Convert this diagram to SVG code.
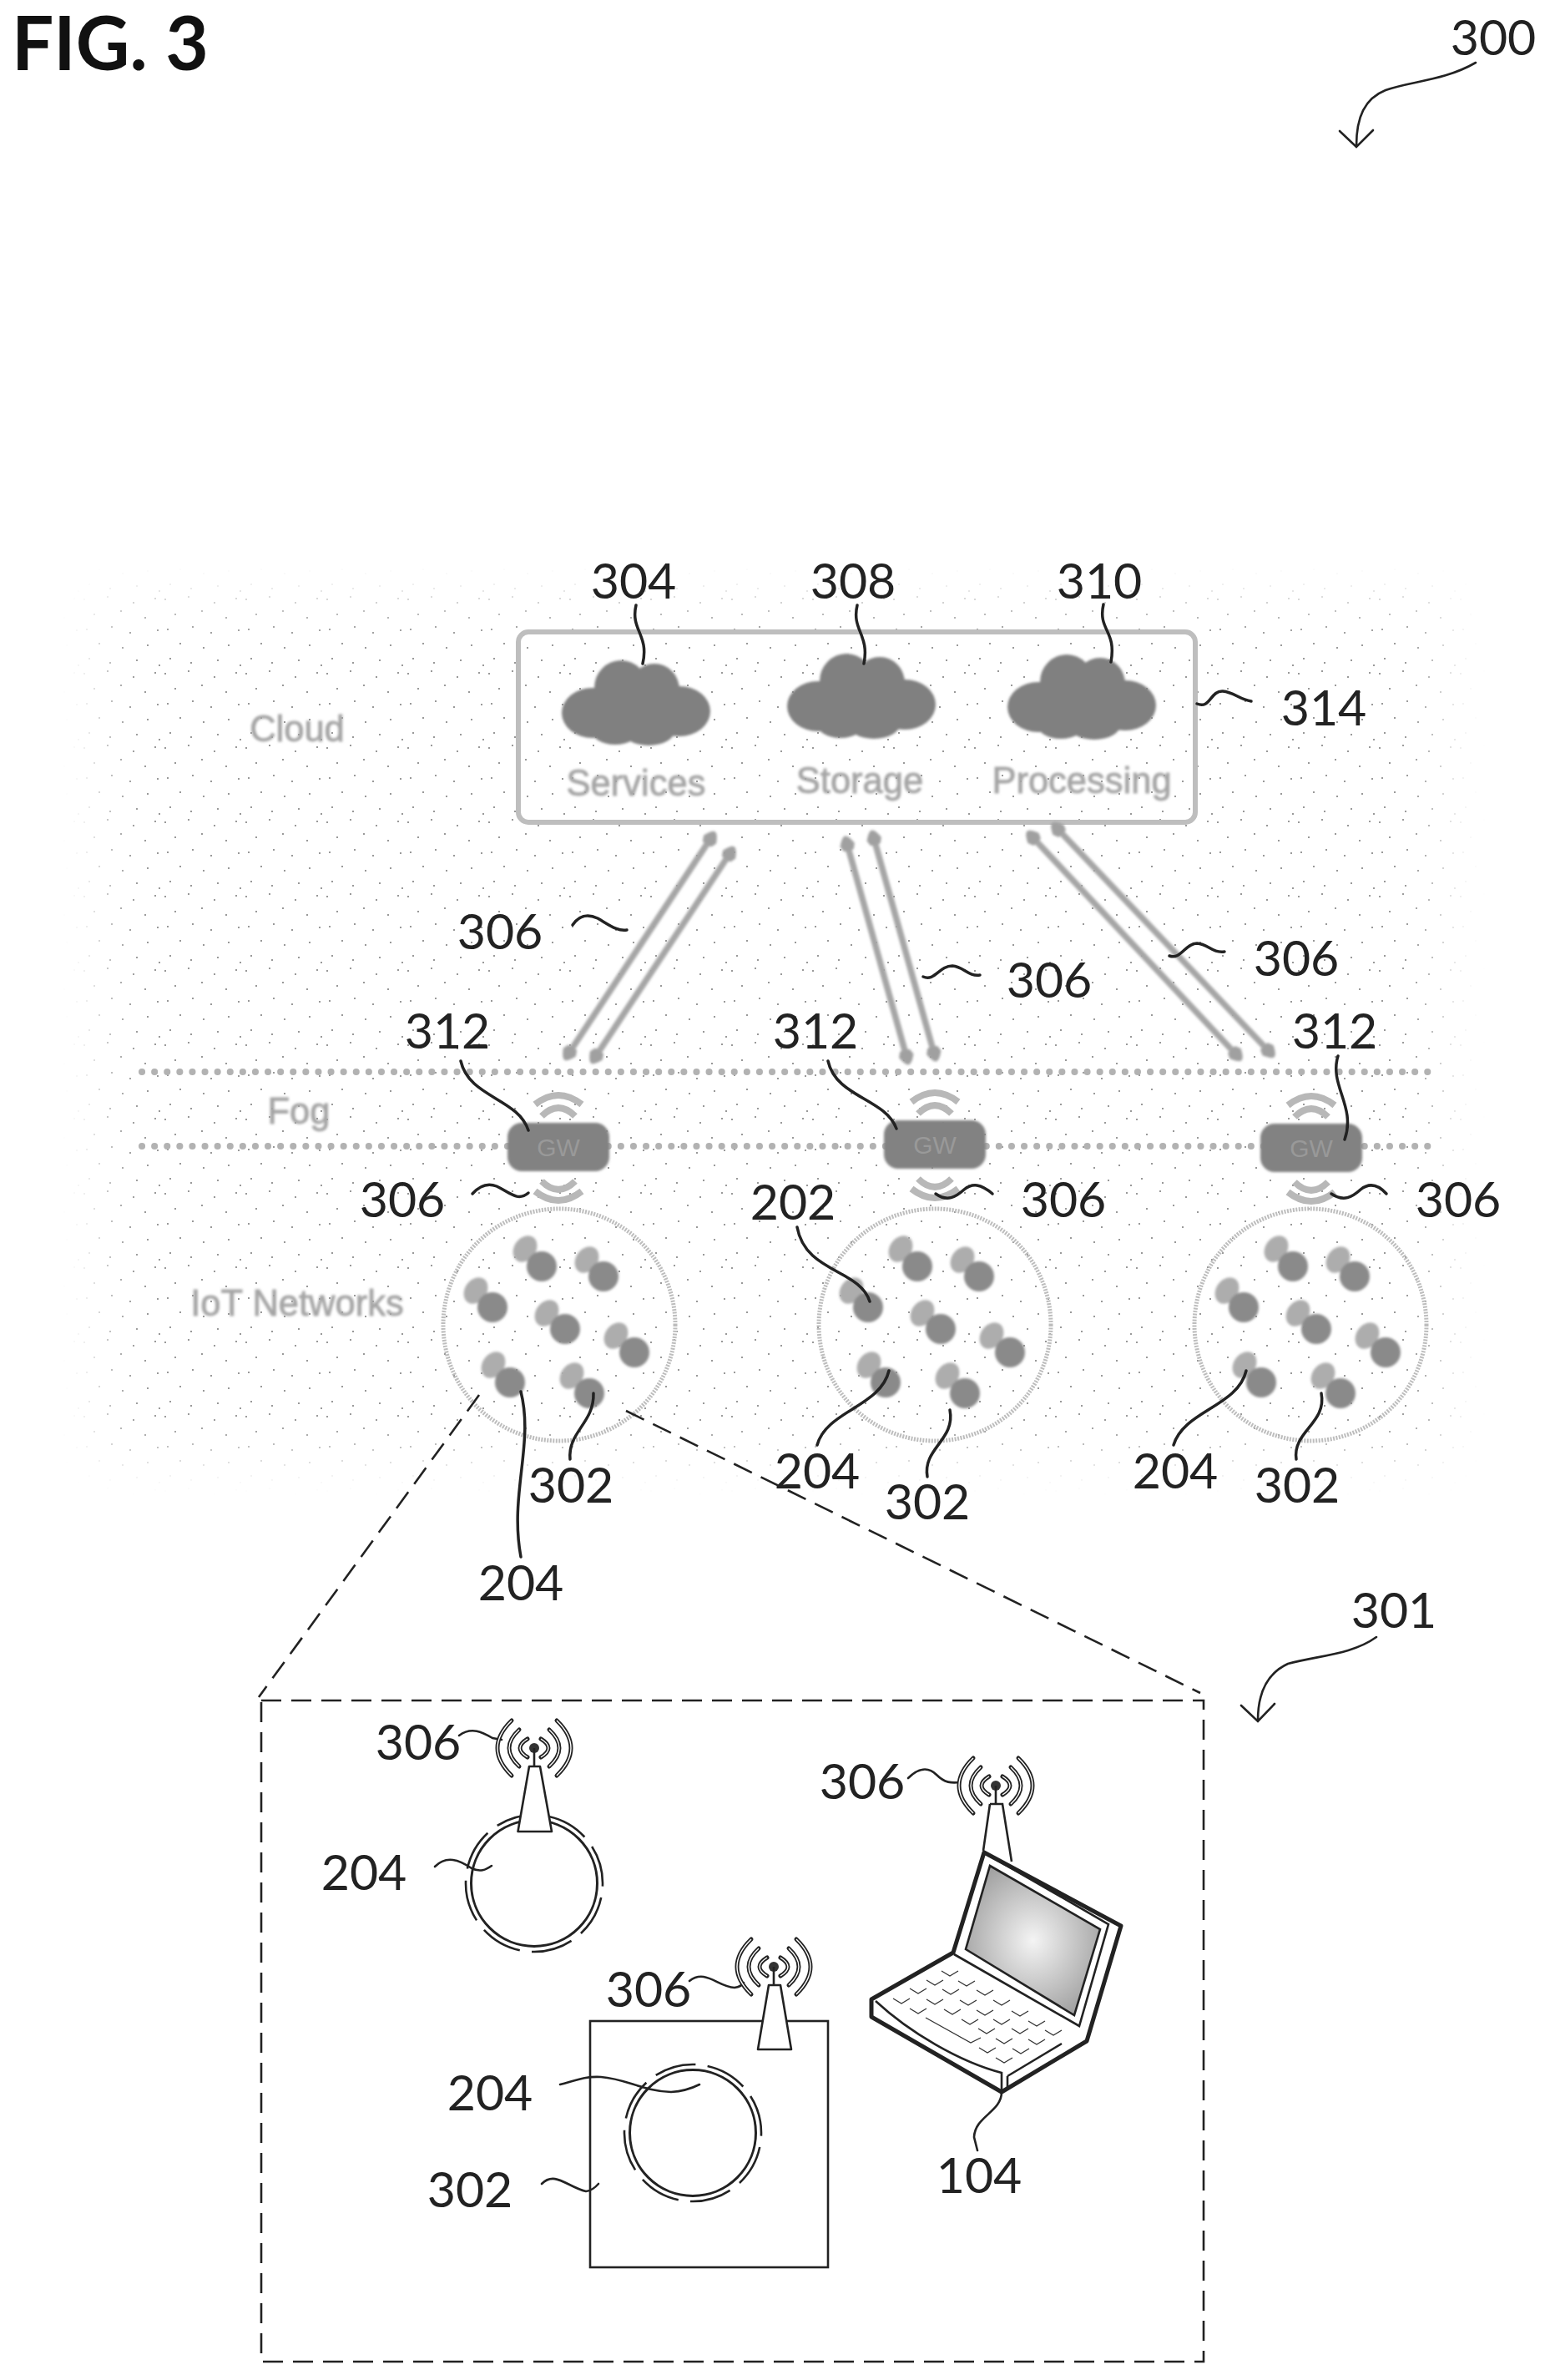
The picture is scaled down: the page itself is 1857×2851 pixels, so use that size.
<svg xmlns="http://www.w3.org/2000/svg" width="1857" height="2851" viewBox="0 0 1857 2851">
<style>
.n{font-family:Lato,"Noto Sans",sans-serif;font-size:59px;fill:#222;text-anchor:middle}
.g{font-family:"Liberation Sans",Arial,sans-serif;font-size:43.5px;fill:#a4a4a4;stroke:#a8a8a8;stroke-width:.9;text-anchor:middle}
.l{fill:none;stroke:#222;stroke-width:3.5;stroke-linecap:round}
.t{fill:none;stroke:#222;stroke-width:2.6;stroke-linecap:round}
.d{fill:none;stroke:#222;stroke-width:2.6;stroke-dasharray:24 12}
.a{fill:none;stroke:#a6a6a6;stroke-width:7.5;marker-start:url(#h);marker-end:url(#h)}
.w{fill:none;stroke:#b8b8b8;stroke-width:8}
.dot{fill:none;stroke:#b2b2b2;stroke-width:8;stroke-linecap:round;stroke-dasharray:.1 15}
.k{fill:none;stroke:#333;stroke-width:1.3}
.tower{fill:#fff;stroke:#222;stroke-width:2.6;stroke-linejoin:round}
</style>
<defs>
<pattern id="sp" width="97" height="89" patternUnits="userSpaceOnUse">
<g fill="#999"><rect x="3" y="5" width="2" height="2"/><rect x="31" y="2" width="2" height="2"/><rect x="62" y="9" width="2" height="2"/><rect x="88" y="4" width="2" height="2"/><rect x="15" y="23" width="2" height="2"/><rect x="47" y="19" width="2" height="2"/><rect x="76" y="27" width="2" height="2"/><rect x="6" y="41" width="2" height="2"/><rect x="36" y="38" width="2" height="2"/><rect x="58" y="45" width="2" height="2"/><rect x="91" y="42" width="2" height="2"/><rect x="21" y="58" width="2" height="2"/><rect x="49" y="63" width="2" height="2"/><rect x="79" y="60" width="2" height="2"/><rect x="9" y="76" width="2" height="2"/><rect x="34" y="81" width="2" height="2"/><rect x="66" y="78" width="2" height="2"/><rect x="93" y="84" width="2" height="2"/></g>
</pattern>
<filter id="fade" x="-10%" y="-10%" width="120%" height="120%"><feGaussianBlur stdDeviation="25"/></filter>
<mask id="mk" maskUnits="userSpaceOnUse" x="0" y="600" width="1857" height="1300"><rect x="125" y="725" width="1600" height="1015" fill="#fff" filter="url(#fade)"/></mask>
<radialGradient id="scr" cx=".5" cy=".5" r=".6"><stop offset="0" stop-color="#f4f4f4"/><stop offset="1" stop-color="#9c9c9c"/></radialGradient>
<filter id="soft" x="-20%" y="-20%" width="140%" height="140%"><feGaussianBlur stdDeviation="1.6"/></filter>
<marker id="h" markerUnits="userSpaceOnUse" markerWidth="30" markerHeight="28" refX="4" refY="14" orient="auto-start-reverse"><path d="M0 8 L7 5 Q18 10 18 14 Q18 18 7 23 L0 20Z" fill="#a0a0a0"/></marker>
<g id="cloud" fill="#808080" filter="url(#soft)"><ellipse cx="0" cy="5" rx="52" ry="36"/><ellipse cx="-52" cy="12" rx="37" ry="30"/><ellipse cx="-18" cy="-18" rx="32" ry="33"/><ellipse cx="22" cy="-16" rx="30" ry="31"/><ellipse cx="52" cy="10" rx="37" ry="30"/><ellipse cx="-25" cy="30" rx="30" ry="20"/><ellipse cx="15" cy="32" rx="32" ry="19"/></g>
<g id="pair" filter="url(#soft)">
<g fill="#adadad"><ellipse cx="-41" cy="-91" rx="13" ry="17" transform="rotate(35 -41 -91)"/><ellipse cx="33" cy="-78" rx="13" ry="17" transform="rotate(35 33 -78)"/><ellipse cx="-100" cy="-41" rx="13" ry="17" transform="rotate(35 -100 -41)"/><ellipse cx="-15" cy="-14" rx="13" ry="17" transform="rotate(35 -15 -14)"/><ellipse cx="68" cy="13" rx="13" ry="17" transform="rotate(35 68 13)"/><ellipse cx="-79" cy="48" rx="13" ry="17" transform="rotate(35 -79 48)"/><ellipse cx="15" cy="61" rx="13" ry="17" transform="rotate(35 15 61)"/></g>
<g fill="#8a8a8a"><circle cx="-21" cy="-70" r="18"/><circle cx="53" cy="-58" r="18"/><circle cx="-80" cy="-21" r="18"/><circle cx="7" cy="5" r="18"/><circle cx="90" cy="33" r="18"/><circle cx="-59" cy="69" r="18"/><circle cx="36" cy="82" r="18"/></g>
</g>
<g id="net"><circle r="139" fill="none" stroke="#bdbdbd" stroke-width="5" stroke-dasharray="2 1.5"/><use href="#pair"/></g>
<g id="gw"><rect x="-61" y="-29" width="122" height="58" rx="17" fill="#828282" filter="url(#soft)"/><text y="11" font-family="Liberation Sans,Arial,sans-serif" font-size="30" fill="#999" text-anchor="middle">GW</text>
<path class="w" d="M-20 -37Q0 -57 20 -37M-28 -51Q0 -73 28 -51M-20 41Q0 61 20 41M-28 53Q0 75 28 53"/></g>
<g id="ant"><g fill="none" stroke="#222" stroke-width="5" stroke-linecap="round"><path d="M-27-33Q-61 0-27 33M27-33Q61 0 27 33M-18-22Q-42 0-18 22M18-22Q42 0 18 22M-8-11Q-26 0-8 11M8-11Q26 0 8 11"/></g><path d="M-27-33Q-61 0-27 33M27-33Q61 0 27 33M-18-22Q-42 0-18 22M18-22Q42 0 18 22M-8-11Q-26 0-8 11M8-11Q26 0 8 11" fill="none" stroke="#fff" stroke-width="1.4"/><circle r="6" fill="#333"/><path d="M0 0V22" stroke="#222" stroke-width="2.6"/></g>
<g id="ring"><circle r="75.5" fill="none" stroke="#222" stroke-width="3"/><circle r="82" fill="none" stroke="#222" stroke-width="2.6" stroke-dasharray="50 14.4" transform="rotate(12)"/></g>
<path id="key" class="k" d="M-10-3L0 3L10-3"/>
</defs>

<rect id="stipple" x="60" y="660" width="1740" height="1150" fill="url(#sp)" mask="url(#mk)"/>

<text x="14" y="84" style="font-family:Lato,'Noto Sans',sans-serif;font-size:89px;font-weight:700;fill:#111">FIG. 3</text>

<g id="labels">
<text class="n" x="1789" y="66">300</text><text class="n" x="1670" y="1950">301</text>
<text class="n" x="759" y="717">304</text><text class="n" x="1022" y="717">308</text><text class="n" x="1317" y="717">310</text><text class="n" x="1586" y="869">314</text>
<text class="n" x="599" y="1137">306</text><text class="n" x="1257" y="1195">306</text><text class="n" x="1553" y="1169">306</text>
<text class="n" x="536" y="1256">312</text><text class="n" x="977" y="1256">312</text><text class="n" x="1599" y="1256">312</text>
<text class="n" x="482" y="1458">306</text><text class="n" x="1274" y="1458">306</text><text class="n" x="1747" y="1458">306</text>
<text class="n" x="950" y="1461">202</text>
<text class="n" x="624" y="1917">204</text><text class="n" x="684" y="1800">302</text>
<text class="n" x="979" y="1783">204</text><text class="n" x="1111" y="1820">302</text>
<text class="n" x="1408" y="1783">204</text><text class="n" x="1554" y="1800">302</text>
<text class="n" x="501" y="2108">306</text><text class="n" x="436" y="2264">204</text>
<text class="n" x="777" y="2404">306</text><text class="n" x="587" y="2528">204</text><text class="n" x="563" y="2644">302</text>
<text class="n" x="1033" y="2155">306</text><text class="n" x="1173" y="2627">104</text>
<g filter="url(#soft)"><text class="g" x="356" y="888">Cloud</text><text class="g" x="762" y="953">Services</text><text class="g" x="1030" y="950">Storage</text><text class="g" x="1296" y="950">Processing</text><text class="g" x="358" y="1346">Fog</text><text class="g" x="356" y="1576">IoT Networks</text></g>
</g>

<g id="node-cloud-box"><rect x="621" y="757" width="811" height="228" rx="12" fill="none" stroke="#bebebe" stroke-width="6"/></g>
<g id="node-services"><use href="#cloud" x="762" y="842"/></g>
<g id="node-storage"><use href="#cloud" x="1032" y="834"/></g>
<g id="node-processing"><use href="#cloud" x="1296" y="835"/></g>
<g id="fog"><path class="dot" d="M170 1284H1724M170 1373H1724"/></g>
<g id="node-gw1"><use href="#gw" x="669" y="1374"/></g>
<g id="node-gw2"><use href="#gw" x="1120" y="1371"/></g>
<g id="node-gw3"><use href="#gw" x="1571" y="1375"/></g>
<g id="node-net1"><use href="#net" x="670" y="1587"/></g>
<g id="node-net2"><use href="#net" x="1120" y="1587"/></g>
<g id="node-net3"><use href="#net" x="1570" y="1587"/></g>

<g id="connectors">
<g filter="url(#soft)"><path class="a" d="M849 1008L684 1258"/><path class="a" d="M872 1026L716 1262"/>
<path class="a" d="M1016 1015L1085 1262"/><path class="a" d="M1048 1008L1118 1258"/>
<path class="a" d="M1240 1006L1478 1260"/><path class="a" d="M1270 996L1517 1256"/></g>
<path class="l" d="M762 725C755 755 778 760 770 795"/>
<path class="l" d="M1027 725C1020 755 1042 760 1035 795"/>
<path class="l" d="M1322 724C1315 755 1338 755 1331 793"/>
<path class="l" d="M1434 843C1450 850 1450 827 1465 828C1478 829 1485 838 1499 840"/>
<path class="l" d="M686 1108C695 1095 705 1095 716 1100C730 1108 740 1116 751 1114"/>
<path class="l" d="M1106 1170C1120 1176 1125 1157 1141 1157C1155 1158 1160 1170 1174 1168"/>
<path class="l" d="M1401 1145C1415 1150 1420 1130 1434 1130C1448 1131 1452 1142 1467 1140"/>
<path class="l" d="M552 1271C562 1315 620 1315 633 1354"/>
<path class="l" d="M992 1271C1002 1315 1060 1315 1074 1352"/>
<path class="l" d="M1603 1265C1592 1300 1625 1325 1611 1365"/>
<path class="l" d="M566 1430C575 1420 585 1417 595 1421C610 1428 620 1440 633 1429"/>
<path class="l" d="M1121 1430C1135 1440 1145 1434 1155 1425C1165 1417 1175 1418 1189 1430"/>
<path class="l" d="M1595 1430C1610 1440 1620 1434 1630 1425C1640 1417 1650 1418 1661 1430"/>
<path class="l" d="M955 1470C965 1525 1030 1520 1042 1559"/>
<path class="l" d="M624 1667C640 1730 610 1790 624 1865"/>
<path class="l" d="M711 1669C712 1705 680 1715 683 1748"/>
<path class="l" d="M1065 1642C1055 1685 990 1690 979 1731"/>
<path class="l" d="M1138 1689C1145 1725 1105 1735 1111 1769"/>
<path class="l" d="M1493 1642C1483 1685 1418 1690 1406 1731"/>
<path class="l" d="M1583 1669C1590 1705 1548 1715 1553 1748"/>
<path class="t" d="M1768 75C1730 97 1690 97 1660 108C1635 118 1625 140 1625 175M1605 157L1625 176L1645 156"/>
<path class="t" d="M1649 1961C1620 1982 1580 1983 1543 1993C1517 2005 1507 2030 1507 2061M1487 2043L1507 2062L1527 2041"/>
<path class="d" d="M574 1671L310 2033"/><path class="d" d="M750 1690L1438 2028"/>
<path class="t" d="M550 2079C565 2068 578 2075 590 2082L601 2084"/>
<path class="t" d="M521 2236C535 2222 550 2228 565 2238C575 2243 582 2240 589 2235"/>
<path class="t" d="M826 2373C845 2358 860 2380 880 2381Q888 2380 891 2375"/>
<path class="t" d="M671 2497C690 2492 700 2487 720 2488C750 2490 770 2505 804 2506Q822 2505 838 2497"/>
<path class="t" d="M649 2616C665 2600 680 2620 702 2625Q710 2624 717 2616"/>
<path class="t" d="M1088 2130C1100 2118 1112 2116 1122 2126C1132 2136 1140 2136 1150 2135"/>
<path class="t" d="M1200 2506C1200 2530 1168 2535 1167 2560L1171 2576"/>
</g>

<g id="node-box"><rect x="313" y="2037" width="1129" height="792" class="d"/></g>
<g id="node-204a"><use href="#ring" x="640" y="2256"/><use href="#ant" x="640" y="2094"/><polygon class="tower" points="634,2116 647,2116 661,2194 620.5,2194"/></g>
<g id="node-302"><rect x="707" y="2421" width="285" height="295" fill="none" stroke="#222" stroke-width="2.6"/><use href="#ring" x="830" y="2555"/><use href="#ant" x="927" y="2356"/><polygon class="tower" points="921,2378 935,2378 948,2455 908,2455"/></g>
<g id="node-104">
<use href="#ant" x="1193" y="2139"/><path d="M1186 2161H1201L1212 2230M1186 2161L1178 2217" fill="none" stroke="#222" stroke-width="2.6"/>
<path d="M1142 2339L1179 2219L1343 2307L1302 2445L1200 2506L1044 2416V2395Z" fill="#fff" stroke="#222" stroke-width="5" stroke-linejoin="round"/>
<path d="M1184 2222L1328 2305L1293 2427L1143 2341" fill="none" stroke="#222" stroke-width="2.6"/>
<polygon points="1186,2235 1318,2311 1287,2414 1157,2335" fill="url(#scr)" stroke="#222" stroke-width="2.6"/>
<path d="M1049 2397C1090 2435 1150 2470 1200 2483V2504M1207 2487V2502M1207 2487L1272 2448" fill="none" stroke="#222" stroke-width="2.6"/>
<path d="M1109 2417L1163 2447L1175 2441" class="k"/>
<use href="#key" x="1138" y="2364"/><use href="#key" x="1120" y="2375"/><use href="#key" x="1158" y="2376"/><use href="#key" x="1100" y="2385"/><use href="#key" x="1139" y="2386"/><use href="#key" x="1180" y="2387"/><use href="#key" x="1080" y="2397"/><use href="#key" x="1120" y="2398"/><use href="#key" x="1160" y="2399"/><use href="#key" x="1200" y="2399"/><use href="#key" x="1100" y="2409"/><use href="#key" x="1141" y="2410"/><use href="#key" x="1180" y="2411"/><use href="#key" x="1222" y="2412"/><use href="#key" x="1162" y="2422"/><use href="#key" x="1200" y="2422"/><use href="#key" x="1242" y="2424"/><use href="#key" x="1182" y="2433"/><use href="#key" x="1222" y="2433"/><use href="#key" x="1262" y="2435"/><use href="#key" x="1203" y="2445"/><use href="#key" x="1242" y="2446"/><use href="#key" x="1183" y="2456"/><use href="#key" x="1223" y="2457"/><use href="#key" x="1203" y="2468"/>
</g>
</svg>
